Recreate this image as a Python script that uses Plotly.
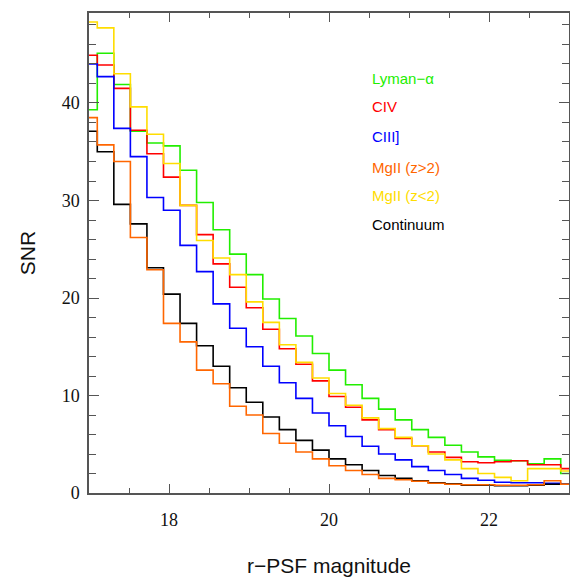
import numpy as np
import plotly.graph_objects as go

# bin centres: 30 magnitude bins spanning 17..23
mag = np.linspace(17, 23, 30)

lyman_alpha = [39.3, 45.1, 41.9, 37.1, 35.9, 35.6, 33.1, 29.8, 27.0, 24.5,
               22.4, 19.9, 17.9, 16.1, 14.3, 12.6, 11.1, 9.7, 8.6, 7.5,
               6.5, 5.7, 4.9, 4.2, 3.7, 3.35, 3.3, 3.0, 3.5, 2.0]
civ = [44.9, 43.9, 41.5, 37.2, 34.8, 32.4, 29.5, 26.5, 23.5, 21.1,
       19.0, 16.8, 14.8, 13.2, 11.5, 9.9, 8.8, 7.5, 6.5, 5.6,
       4.85, 4.2, 3.65, 3.2, 3.1, 3.2, 3.3, 2.9, 2.9, 2.5]
ciii = [44.0, 42.7, 37.4, 34.5, 30.3, 29.0, 25.4, 22.7, 19.4, 16.9,
        15.0, 13.0, 11.3, 9.7, 8.2, 6.9, 5.8, 4.8, 4.0, 3.4,
        2.7, 2.3, 1.9, 1.5, 1.3, 1.1, 1.05, 1.05, 1.0, 0.9]
mgii_hi = [38.5, 35.7, 34.0, 26.2, 22.9, 17.4, 15.5, 12.6, 11.2, 8.9,
           8.0, 6.1, 5.1, 4.2, 3.5, 2.8, 2.3, 1.9, 1.5, 1.36,
           1.2, 1.0, 0.9, 0.85, 0.85, 0.8, 0.8, 0.85, 1.26, 0.9]
mgii_lo = [48.3, 47.7, 43.0, 39.6, 36.8, 33.8, 29.5, 25.9, 24.1, 22.4,
           19.6, 17.5, 15.2, 13.4, 11.8, 10.2, 9.0, 7.7, 6.6, 5.7,
           4.85, 4.0, 3.4, 2.5, 2.0, 1.6, 1.26, 2.5, 2.5, 2.25]
continuum = [37.1, 35.0, 29.6, 27.6, 23.1, 20.4, 17.4, 15.1, 13.0, 10.8,
             9.3, 7.8, 6.5, 5.4, 4.4, 3.5, 2.9, 2.3, 1.8, 1.5,
             1.26, 1.05, 0.95, 0.8, 0.8, 0.75, 0.75, 0.8, 0.9, 0.9]

series = [
    ("Lyman\u2212\u03b1", lyman_alpha, "#22ee00"),
    ("CIV", civ, "#ff0000"),
    ("CIII]", ciii, "#0000ff"),
    ("Continuum", continuum, "#000000"),
    ("MgII (z>2)", mgii_hi, "#ff6600"),
    ("MgII (z<2)", mgii_lo, "#ffdd00"),
]
legend_order = ["Lyman\u2212\u03b1", "CIV", "CIII]", "MgII (z>2)", "MgII (z<2)", "Continuum"]
legend_py = [79, 107, 136, 167, 195, 224]

W, H = 570, 577
L, R, T, B = 89, 1, 13, 84
PW, PH = W - L - R, H - T - B

fig = go.Figure()
colors = {}
for name, vals, col in series:
    colors[name] = col
    fig.add_trace(go.Scatter(x=mag, y=vals, mode="lines", name=name,
                             line=dict(color=col, width=1.6, shape="hvh"),
                             showlegend=False))

for lab, py in zip(legend_order, legend_py):
    fig.add_annotation(x=(370 - L) / PW, y=(H - B - py) / PH, xref="x domain", yref="y domain",
                       text=lab, showarrow=False, xanchor="left", yanchor="middle",
                       font=dict(family="Liberation Sans, Arial", size=15, color=colors[lab]))

axis_common = dict(showline=True, linecolor="#555555", linewidth=1.5, mirror="ticks",
                   ticks="inside", tickcolor="#555555", tickwidth=1.3,
                   showgrid=False, zeroline=False, automargin=False,
                   tickfont=dict(family="Liberation Serif, Times New Roman", size=18, color="#111111"))

fig.update_layout(
    width=W, height=H,
    margin=dict(l=L, r=R, t=T, b=B),
    plot_bgcolor="white", paper_bgcolor="white",
    xaxis=dict(range=[17, 23], tick0=18, dtick=2, ticklen=9, ticklabelstandoff=10,
               minor=dict(dtick=0.5, tick0=17, ticklen=5, ticks="inside", tickcolor="#555555", tickwidth=1.3),
               title=dict(text="r\u2212PSF magnitude", standoff=34,
                          font=dict(family="Liberation Sans, Arial", size=21, color="#111111")),
               **axis_common),
    yaxis=dict(range=[0, 49.23], tick0=0, dtick=10, ticklen=10, ticklabelstandoff=4,
               minor=dict(dtick=2, tick0=0, ticklen=7, ticks="inside", tickcolor="#555555", tickwidth=1.3),
               title=dict(text="SNR", standoff=20,
                          font=dict(family="Liberation Sans, Arial", size=21, color="#111111")),
               **axis_common),
)

fig.write_html("out.html")
